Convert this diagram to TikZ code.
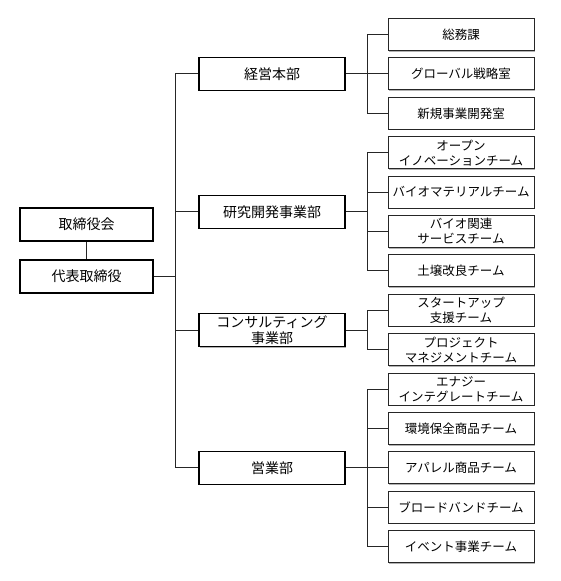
\documentclass[tikz,border=0pt]{standalone}
\usepackage{fontspec}
\setmainfont{Noto Sans CJK JP}
\usetikzlibrary{positioning, shadows}
\tikzset{
  base/.style={draw=black, align=center, fill=white, inner sep=1pt,
               drop shadow={shadow xshift=1pt, shadow yshift=-1pt, fill=black!30, opacity=1}},
  exec/.style     = {base, line width=1.6pt, font=\fontsize{14}{16}\selectfont,
                     minimum width=133pt, minimum height=33pt},
  division/.style = {base, line width=1.6pt, font=\fontsize{14}{16}\selectfont,
                     minimum width=146pt, minimum height=33pt},
  team/.style     = {base, draw=black!85, line width=1pt, font=\fontsize{12.5}{15}\selectfont,
                     minimum width=146pt, minimum height=32pt},
  link/.style     = {line width=0.9pt, draw=black!85},
}
\begin{document}
\begin{tikzpicture}[x=1pt, y=1pt, node distance=6.4pt]
  \useasboundingbox (0,0) rectangle (560,-581);
  \coordinate (trunk)  at (175,0);
  \coordinate (divcol) at (272,0);
  \coordinate (branch) at (367,0);

  % teams, right column
  \node[team] (soumu) at (461,-34.5) {総務課};
  \node[team, below=of soumu]    (global)   {グローバル戦略室};
  \node[team, below=of global]   (newbiz)   {新規事業開発室};
  \node[team, below=of newbiz]   (openinno) {オープン\\イノベーションチーム};
  \node[team, below=of openinno] (biomat)   {バイオマテリアルチーム};
  \node[team, below=of biomat]   (biosvc)   {バイオ関連\\サービスチーム};
  \node[team, below=of biosvc]   (soil)     {土壌改良チーム};
  \node[team, below=of soil]     (startup)  {スタートアップ\\支援チーム};
  \node[team, below=of startup]  (pm)       {プロジェクト\\マネジメントチーム};
  \node[team, below=of pm]       (energy)   {エナジー\\インテグレートチーム};
  \node[team, below=of energy]   (eco)      {環境保全商品チーム};
  \node[team, below=of eco]      (apparel)  {アパレル商品チーム};
  \node[team, below=of apparel]  (broad)    {ブロードバンドチーム};
  \node[team, below=of broad]    (event)    {イベント事業チーム};

  % divisions, centred on their teams
  \path (biomat) -- (biosvc) coordinate[midway] (rdmid);
  \path (startup) -- (pm) coordinate[midway] (csmid);
  \node[division] (hq)      at (global -| divcol)  {経営本部};
  \node[division] (rd)      at (rdmid -| divcol)   {研究開発事業部};
  \node[division] (consult) at (csmid -| divcol)   {コンサルティング\\事業部};
  \node[division] (sales)   at (apparel -| divcol) {営業部};

  % executives
  \node[exec] (board) at (86.5,-224.5) {取締役会};
  \node[exec, below=17.4pt of board] (ceo) {代表取締役};

  \draw[link] (board) -- (ceo);
  \draw[link] (ceo.east) -- (ceo.east -| trunk);
  \draw[link] (hq.west -| trunk) -- (sales.west -| trunk);
  \foreach \d in {hq,rd,consult,sales} \draw[link] (\d.west) -- (\d.west -| trunk);

  \foreach \d/\first/\last in {hq/soumu/newbiz, rd/openinno/soil, consult/startup/pm, sales/energy/event} {
    \draw[link] (\d.east) -- (\d.east -| branch);
    \draw[link] (\first.west -| branch) -- (\last.west -| branch);
  }
  \foreach \t in {soumu,global,newbiz,openinno,biomat,biosvc,soil,startup,pm,energy,eco,apparel,broad,event}
    \draw[link] (\t.west) -- (\t.west -| branch);
\end{tikzpicture}
\end{document}
